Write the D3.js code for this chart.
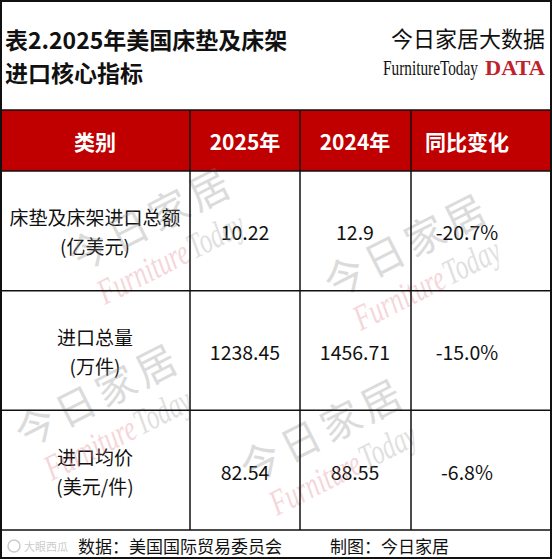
<!DOCTYPE html>
<html><head><meta charset="utf-8">
<script src="https://cdn.jsdelivr.net/npm/d3@7"></script>
<style>html,body{margin:0;padding:0;background:#fff;}svg{display:block;}</style>
</head><body>
<script>
// ---- data ----
const titleLines = ["表2.2025年美国床垫及床架", "进口核心指标"];
const brandLine = "今日家居大数据";
const headers = ["类别", "2025年", "2024年", "同比变化"];
const categories = ["床垫及床架进口总额", "进口总量", "进口均价"];
const units = ["(亿美元)", "(万件)", "(美元/件)"];
const values2025 = ["10.22", "1238.45", "82.54"];
const values2024 = ["12.9", "1456.71", "88.55"];
const yoyChange = ["-20.7%", "-15.0%", "-6.8%"];
const sourceText = "数据：美国国际贸易委员会";
const makerText = "制图：今日家居";
const watermarkMain = "今日家居";

// ---- layout ----
const W = 552, H = 559;
const svg = d3.select("body").append("svg").attr("width", W).attr("height", H);
const FONT = "'Noto Sans CJK SC','Noto Sans',sans-serif";

const colEdges = [0, 190, 300, 411, 552];
const colCenters = [95, 245, 355, 467];
const colX = d3.scaleOrdinal().domain(d3.range(4)).range(colCenters);
const headTop = 110, headBottom = 171, tableBottom = 530;
const rowY = d3.scaleBand().domain(d3.range(categories.length)).range([headBottom, tableBottom]);

svg.append("rect").attr("width", W).attr("height", H).attr("fill", "#fff");

// title
svg.selectAll("text.title").data(titleLines).join("text").attr("class", "title")
  .attr("x", 5).attr("y", (d, i) => 49 + i * 33)
  .attr("font-family", FONT).attr("font-weight", 700).attr("font-size", 23)
  .attr("fill", "#111").text(d => d);

svg.append("text").attr("x", 545).attr("y", 47).attr("text-anchor", "end")
  .attr("font-family", FONT).attr("font-size", 22).attr("fill", "#111").text(brandLine);

// logo: condensed by horizontal scaling to fit the measured widths
function fitText(x, y, width, size, weight, fill, str) {
  const t = svg.append("text").attr("font-family", "'Liberation Serif',serif")
    .attr("font-size", size).attr("font-weight", weight).attr("fill", fill).text(str);
  const len = t.node().getComputedTextLength() || width;
  t.attr("transform", `translate(${x},${y}) scale(${width / len},1)`);
  return t;
}
fitText(383, 75, 95, 21, 400, "#111", "FurnitureToday");
fitText(485, 75, 60, 21, 700, "#c0212a", "DATA");

// header row
svg.append("rect").attr("x", 0).attr("y", headTop).attr("width", W).attr("height", headBottom - headTop)
  .attr("fill", "#c00000");
svg.selectAll("text.head").data(headers).join("text").attr("class", "head")
  .attr("x", (d, i) => colX(i)).attr("y", (headTop + headBottom) / 2)
  .attr("text-anchor", "middle").attr("dominant-baseline", "central")
  .attr("font-family", FONT).attr("font-weight", 700).attr("font-size", 21)
  .attr("fill", "#fff").text(d => d);

// body rows
const rows = svg.selectAll("g.row").data(categories).join("g").attr("class", "row")
  .attr("transform", (d, i) => `translate(0,${rowY(i) + rowY.bandwidth() / 2})`);
rows.append("text").attr("x", colX(0)).attr("y", -14).attr("text-anchor", "middle")
  .attr("dominant-baseline", "central").attr("font-family", FONT).attr("font-size", 19)
  .attr("fill", "#111").text(d => d);
rows.append("text").attr("x", colX(0)).attr("y", 15).attr("text-anchor", "middle")
  .attr("dominant-baseline", "central").attr("font-family", FONT).attr("font-size", 19)
  .attr("fill", "#111").text((d, i) => units[i]);
[values2025, values2024, yoyChange].forEach((arr, c) => {
  rows.append("text").attr("x", colX(c + 1)).attr("y", 1).attr("text-anchor", "middle")
    .attr("dominant-baseline", "central").attr("font-family", FONT).attr("font-size", 19.5)
    .attr("fill", "#111").text((d, i) => arr[i]);
});

// watermarks
const wm = [[150, 217], [406, 243], [97, 393], [322, 428]];
const wg = svg.selectAll("g.wm").data(wm).join("g").attr("class", "wm")
  .attr("transform", d => `translate(${d[0]},${d[1]}) rotate(-27)`).attr("opacity", 0.3);
wg.append("text").attr("text-anchor", "middle").attr("dominant-baseline", "central")
  .attr("font-family", FONT).attr("font-size", 40).attr("letter-spacing", 5)
  .attr("fill", "#8a8a8a").text(watermarkMain);
wg.append("text").attr("x", -80).attr("y", 46).attr("dominant-baseline", "central")
  .attr("font-family", "'Liberation Serif',serif").attr("font-style", "italic").attr("font-size", 36)
  .attr("textLength", 98).attr("lengthAdjust", "spacingAndGlyphs")
  .attr("fill", "#e07a86").text("Furniture");
wg.append("text").attr("x", 20).attr("y", 46).attr("dominant-baseline", "central")
  .attr("font-family", "'Liberation Serif',serif").attr("font-style", "italic").attr("font-size", 36)
  .attr("textLength", 60).attr("lengthAdjust", "spacingAndGlyphs")
  .attr("fill", "#9a9a9a").text("Today");

// grid lines
const hLines = [headTop, headBottom, ...categories.map((d, i) => rowY(i) + rowY.bandwidth())];
svg.selectAll("line.h").data(hLines).join("line").attr("class", "h")
  .attr("x1", 0).attr("x2", W).attr("y1", d => d).attr("y2", d => d)
  .attr("stroke", "#111").attr("stroke-width", 1.5);
svg.selectAll("line.v").data(colEdges.slice(1, 4)).join("line").attr("class", "v")
  .attr("x1", d => d).attr("x2", d => d).attr("y1", headTop).attr("y2", tableBottom)
  .attr("stroke", "#111").attr("stroke-width", 1.5);
svg.append("rect").attr("x", 1).attr("y", 1).attr("width", W - 2).attr("height", H - 2)
  .attr("fill", "none").attr("stroke", "#111").attr("stroke-width", 2);

// footer
svg.append("text").attr("x", 78).attr("y", 545).attr("dominant-baseline", "central")
  .attr("font-family", FONT).attr("font-size", 17).attr("fill", "#111").text(sourceText);
svg.append("text").attr("x", 330).attr("y", 545).attr("dominant-baseline", "central")
  .attr("font-family", FONT).attr("font-size", 17).attr("fill", "#111").text(makerText);
svg.append("circle").attr("cx", 14).attr("cy", 546).attr("r", 6).attr("fill", "none")
  .attr("stroke", "#ccc").attr("stroke-width", 1.5);
svg.append("text").attr("x", 24).attr("y", 546).attr("dominant-baseline", "central")
  .attr("font-family", FONT).attr("font-size", 11).attr("fill", "#ccc").text("大眼西瓜");
</script>
</body></html>
